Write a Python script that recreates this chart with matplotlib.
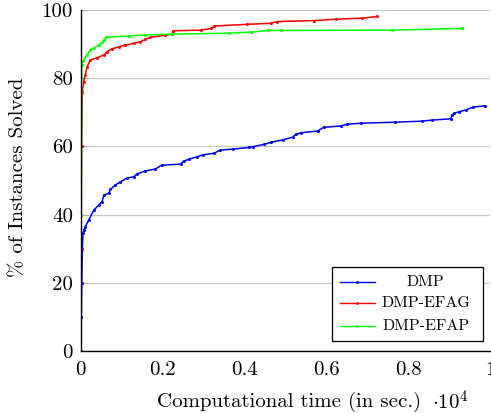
import matplotlib
matplotlib.use("Agg")
import matplotlib.pyplot as plt
from matplotlib.ticker import FuncFormatter
from matplotlib.patches import Rectangle
from matplotlib.lines import Line2D

plt.rcParams['font.family'] = ['cmr10', 'DejaVu Serif']
plt.rcParams['mathtext.fontset'] = 'cm'
plt.rcParams['axes.unicode_minus'] = False

# ---- data (time in seconds, % solved) ----
dmp_x = [0, 15, 25, 40, 55, 80, 115, 196, 318, 440, 521, 562, 685, 726, 848, 971,
         1125, 1296, 1369, 1582, 1826, 1980, 2438, 2518, 2641, 2853, 2976, 3259,
         3406, 3709, 4115, 4198, 4482, 4645, 4931, 5176, 5257, 5379, 5787, 5934,
         6357, 6504, 6846, 7677, 8330, 8575, 9046, 9064, 9127, 9250, 9413, 9577, 9878]
dmp_y = [0, 10, 20, 30, 34.6, 35.5, 36.5, 38.4, 41.3, 42.8, 43.8, 45.7, 46.3, 47.4,
         48.7, 49.6, 50.7, 51.1, 51.9, 52.8, 53.4, 54.5, 54.8, 55.7, 56.2, 57.0,
         57.5, 58.0, 58.9, 59.2, 59.7, 59.9, 60.6, 61.2, 61.9, 62.7, 63.5, 64.0,
         64.5, 65.6, 66.0, 66.5, 66.8, 67.1, 67.4, 67.7, 68.1, 69.2, 69.7, 70.2,
         70.7, 71.5, 71.9]

efag_x = [0, 10, 20, 40, 70, 110, 154, 237, 399, 562, 643, 765, 929, 1093, 1296, 1460,
          1582, 1704, 2071, 2230, 2260, 2934, 3195, 3259, 4074, 4645, 4792, 5702,
          6232, 6884, 7249]
efag_y = [0, 30, 60, 76, 79, 81, 83.4, 85.3, 86.0, 86.8, 87.8, 88.6, 89.2, 89.7, 90.2,
          90.7, 91.4, 92.0, 92.6, 92.9, 93.9, 94.1, 94.6, 95.3, 95.8, 96.1, 96.6,
          96.9, 97.3, 97.6, 98.1]

efap_x = [0, 15, 25, 49, 154, 237, 318, 440, 521, 562, 620, 1173, 1582, 2200,
          3625, 4155, 4587, 4889, 7617, 9309]
efap_y = [0, 40, 83.9, 84.9, 86.8, 88.3, 88.9, 89.7, 90.5, 91.2, 92.0, 92.4,
          92.7, 92.9, 93.2, 93.5, 94.0, 94.0, 94.1, 94.6]

series = [("DMP", dmp_x, dmp_y, "#0000ff"),
          ("DMP-EFAG", efag_x, efag_y, "#ff0000"),
          ("DMP-EFAP", efap_x, efap_y, "#00ff00")]

xticks = [0, 2000, 4000, 6000, 8000, 10000]
yticks = [0, 20, 40, 60, 80, 100]

fig = plt.figure(figsize=(4.91, 4.13), dpi=100)
ax = fig.add_axes([0.1644, 0.1501, 0.8336, 0.8257])

for name, xs, ys, col in series:
    ax.plot(xs, ys, color=col, lw=1.1, marker='o', markersize=2.2,
            markeredgewidth=0, label=name, zorder=3)

ax.set_xlim(0, 10000)
ax.set_ylim(0, 100)
ax.set_xticks(xticks)
ax.set_yticks(yticks)
ax.xaxis.set_major_formatter(FuncFormatter(lambda v, p: ('%g' % (v / 1e4))))
ax.yaxis.grid(True, color='#c8c8c8', lw=0.9, zorder=0)
ax.set_axisbelow(True)
ax.spines['top'].set_visible(False)
ax.spines['right'].set_visible(False)
for s in ('left', 'bottom'):
    ax.spines[s].set_linewidth(1.0)
    ax.spines[s].set_zorder(4)
ax.tick_params(axis='y', direction='in', length=5, color='#b0b0b0', labelsize=15, pad=5.5)
ax.tick_params(axis='x', direction='in', length=0, labelsize=15, pad=7.5)

ax.set_xlabel('Computational time (in sec.)', fontsize=15, va='center')
ax.xaxis.set_label_coords(0.508, -0.148)
ax.set_ylabel('% of Instances Solved', fontsize=15, va='center', ha='center')
ax.yaxis.set_label_coords(-0.152, 0.51)
ax.text(0.902, -0.150, r'$\cdot 10^4$', transform=ax.transAxes, fontsize=15,
        ha='center', va='center')

# legend (pgfplots-style, centered labels)
box = Rectangle((0.614, 0.029), 0.369, 0.217, transform=ax.transAxes,
                facecolor='white', edgecolor='black', lw=0.9, zorder=5)
ax.add_patch(box)
for (name, xs, ys, col), yy in zip(series, [0.201, 0.140, 0.073]):
    ax.add_line(Line2D([0.633, 0.719], [yy, yy], transform=ax.transAxes, color=col,
                       lw=1.0, zorder=6))
    ax.add_line(Line2D([0.676], [yy], transform=ax.transAxes, color=col, marker='o',
                       markersize=2.0, markeredgewidth=0, zorder=6))
    ax.text(0.843, yy, name, transform=ax.transAxes, ha='center', va='center',
            fontsize=11.5, zorder=7)

fig.savefig('out.png', dpi=100)
